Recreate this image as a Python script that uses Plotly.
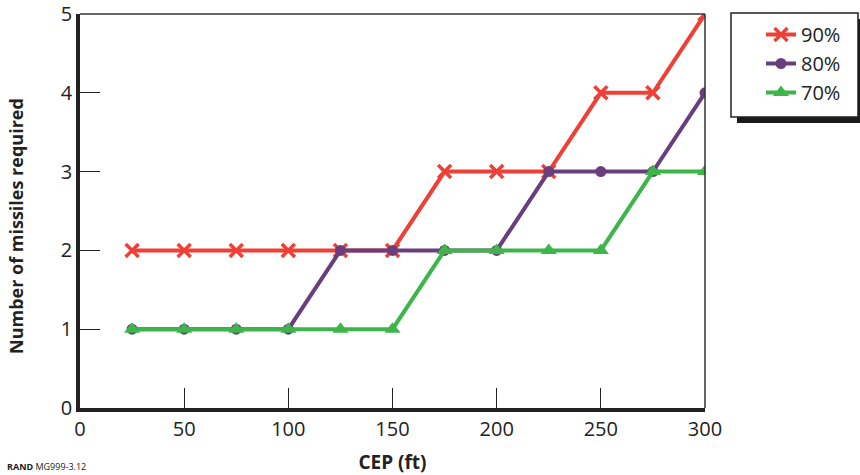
import plotly.graph_objects as go

cep = [25, 50, 75, 100, 125, 150, 175, 200, 225, 250, 275, 300]
p90 = [2, 2, 2, 2, 2, 2, 3, 3, 3, 4, 4, 5]
p80 = [1, 1, 1, 1, 2, 2, 2, 2, 3, 3, 3, 4]
p70 = [1, 1, 1, 1, 1, 1, 2, 2, 2, 2, 3, 3]
x_ticks = [0, 50, 100, 150, 200, 250, 300]
y_ticks = [0, 1, 2, 3, 4, 5]
series_names = ["90%", "80%", "70%"]

RED = "#ee4036"
PURPLE = "#6a3d7c"
GREEN = "#3db54a"
FONT = "Open Sans"

W, H = 860, 475
L, R, T, B = 80, 155, 14, 67
PW, PH = W - L - R, H - T - B

def px2paper_x(px):
    return (px - L) / PW

def py2paper_y(py):
    return (H - B - py) / PH

fig = go.Figure()
fig.add_trace(go.Scatter(x=cep, y=p90, name=series_names[0], mode="lines+markers",
                         line=dict(color=RED, width=4),
                         marker=dict(symbol="x-thin", size=13, color=RED,
                                     line=dict(color=RED, width=3.5))))
fig.add_trace(go.Scatter(x=cep, y=p80, name=series_names[1], mode="lines+markers",
                         line=dict(color=PURPLE, width=4),
                         marker=dict(symbol="circle", size=11, color=PURPLE)))
fig.add_trace(go.Scatter(x=cep, y=p70, name=series_names[2], mode="lines+markers",
                         line=dict(color=GREEN, width=4),
                         marker=dict(symbol="triangle-up", size=14, color=GREEN)))

# legend box geometry (pixels)
lx0, ly0, lx1, ly1 = 731, 13, 858, 117
sh = 6
shapes = [
    dict(type="line", xref="paper", yref="paper", x0=0, x1=1, y0=1, y1=1,
         line=dict(color="#333333", width=1.5)),
    dict(type="line", xref="paper", yref="paper", x0=1, x1=1, y0=0, y1=1,
         line=dict(color="#333333", width=1.5)),
    dict(type="rect", xref="paper", yref="paper",
         x0=px2paper_x(lx0 + sh), x1=px2paper_x(lx1 + sh),
         y0=py2paper_y(ly1 + sh), y1=py2paper_y(ly0 + sh),
         line=dict(width=0), fillcolor="#1a1a1a"),
    dict(type="rect", xref="paper", yref="paper",
         x0=px2paper_x(lx0), x1=px2paper_x(lx1),
         y0=py2paper_y(ly1), y1=py2paper_y(ly0),
         line=dict(width=1.5, color="#222222"), fillcolor="white"),
]

fig.update_layout(
    width=W, height=H,
    margin=dict(l=L, r=R, t=T, b=B, autoexpand=False),
    paper_bgcolor="white", plot_bgcolor="white",
    font=dict(family=FONT, size=20, color="#222222"),
    shapes=shapes,
    showlegend=True,
    legend=dict(x=px2paper_x(761), y=py2paper_y(15), xanchor="left", yanchor="top",
                bgcolor="rgba(0,0,0,0)", borderwidth=0,
                font=dict(family=FONT, size=20, color="#222222"),
                tracegroupgap=0),
    xaxis=dict(range=[0, 300], tickvals=x_ticks, ticktext=[str(v) for v in x_ticks],
               showgrid=False, zeroline=False, showline=True, linecolor="#222222",
               linewidth=3.5, ticks="inside", ticklen=20, tickwidth=1, tickcolor="#222222",
               tickfont=dict(size=20), fixedrange=True, automargin=False,
               title=dict(text="<b>CEP (ft)</b>", font=dict(size=19), standoff=17)),
    yaxis=dict(range=[0, 5], tickvals=y_ticks, ticktext=[str(v) for v in y_ticks],
               showgrid=False, zeroline=False, showline=True, linecolor="#222222",
               linewidth=3.5, ticks="inside", ticklen=20, tickwidth=1, tickcolor="#222222",
               tickfont=dict(size=20), fixedrange=True, automargin=False),
    annotations=[
        dict(text="<b>Number of missiles required</b>", xref="paper", yref="paper",
             x=px2paper_x(16), y=py2paper_y(226), xanchor="center", yanchor="middle",
             textangle=-90, showarrow=False, font=dict(size=18, color="#222222")),
        dict(text="<b>RAND</b> MG999-3.12", xref="paper", yref="paper",
             x=px2paper_x(5), y=py2paper_y(475), xanchor="left", yanchor="bottom",
             showarrow=False, font=dict(size=9, color="#222222")),
    ],
)

fig.write_html("out.html", post_script="document.body.style.margin='0';",
               config={"displayModeBar": False})
